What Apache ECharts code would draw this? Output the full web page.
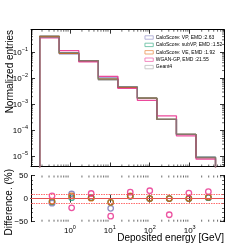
<!DOCTYPE html>
<html><head><meta charset="utf-8">
<script src="https://cdn.jsdelivr.net/npm/echarts@6/dist/echarts.min.js"></script>
<style>html,body{margin:0;padding:0;background:#fff}#c{width:249px;height:249px}</style>
</head><body><div id="c"></div>
<script>
// ---- data ----
const binEdges   = [0.175, 0.54, 1.67, 5.15, 15.9, 49, 151, 466, 1440, 4440];
const binCenters = [0.357, 1.105, 3.41, 10.5, 32.5, 100, 308, 953, 2940];
const geant4     = [0.38, 0.097, 0.048, 0.0087, 0.0048, 0.00174, 0.00027, 7.2e-5, 9.5e-6];
const caloVP     = [0.418, 0.0873, 0.047, 0.0105, 0.00456, 0.00174, 0.00027, 7.2e-5, 9.3e-6];
const caloSubVP  = [0.407, 0.095, 0.047, 0.0094, 0.00456, 0.00174, 0.00027, 7.2e-5, 9.3e-6];
const caloVE     = [0.403, 0.091, 0.0475, 0.0094, 0.00451, 0.00174, 0.00027, 7.2e-5, 9.2e-6];
const wganGP     = [0.357, 0.116, 0.0427, 0.012, 0.00413, 0.00144, 0.000365, 6.3e-5, 8.1e-6];
const diffVP     = [-10, 10, 2, -21, 5, 0, 0, 0, 2];
const diffSubVP  = [-7, 2, 2, -8, 5, 0, 0, 0, 2];
const diffVE     = [-6, 6, 1, -8, 6, 0, 0, 0, 3];
const diffWGAN   = [6, -20, 11, -38, 14, 17, -35, 12, 15];
const diffTicks  = [-50, 0, 50];
const seriesNames = ["CaloScore: VP, EMD :2.63", "CaloScore: subVP, EMD :1.52", "CaloScore: VE, EMD :1.92", "WGAN-GP, EMD :21.55", "Geant4"];
const refLines = [0, 10, -10];
const xLabel = "Deposited energy [GeV]";
const yLabelTop = "Normalized entries";
const yLabelBottom = "Difference. (%)";

// ---- style ----
const colors = ['#7570b3', '#1b9e77', '#d95f02', '#e7298a', '#7a7a7a'];
const legendColors = ['#aeabd6', '#6cc3a6', '#eda06a', '#f07ab8', '#c4c4c4'];
const FONT = 'Liberation Sans';
const FLOOR = 1e-9;

function stepData(vals) {
  const pts = [[binEdges[0], FLOOR]];
  vals.forEach((v, i) => { pts.push([binEdges[i], v]); pts.push([binEdges[i + 1], v]); });
  pts.push([binEdges[binEdges.length - 1], FLOOR]);
  return pts;
}
function powLabel(v) {
  const e = Math.round(Math.log10(v));
  return '{b|10}{s|' + String(e).replace('-', '\u2212') + '}';
}
const richLab = { b: { fontSize: 8, fontFamily: FONT, color: '#000' }, s: { fontSize: 5.5, fontFamily: FONT, color: '#000', padding: [0, 0, 6, 0] } };

const xMinor = [], yMinorTop = [];
for (let k = -1; k <= 3; k++) for (let m = 2; m <= 9; m++) xMinor.push(m * Math.pow(10, k));
for (let k = -6; k <= -1; k++) for (let m = 2; m <= 9; m++) yMinorTop.push(m * Math.pow(10, k));

function tickSeries(xi, yi, xs, ys, xRef, yRef, yLabs) {
  return {
    type: 'custom', xAxisIndex: xi, yAxisIndex: yi, data: [[xRef, yRef]], silent: true, z: 10, clip: false,
    renderItem(params, api) {
      const cs = params.coordSys, ch = [], L = 2;
      const st = { stroke: '#000', lineWidth: 0.6 };
      xs.forEach(v => {
        const p = api.coord([v, yRef])[0];
        if (p < cs.x + 0.5 || p > cs.x + cs.width - 0.5) return;
        ch.push({ type: 'line', shape: { x1: p, y1: cs.y + cs.height, x2: p, y2: cs.y + cs.height - L }, style: st });
        ch.push({ type: 'line', shape: { x1: p, y1: cs.y, x2: p, y2: cs.y + L }, style: st });
      });
      ys.forEach(v => {
        const p = api.coord([xRef, v])[1];
        if (p < cs.y + 0.5 || p > cs.y + cs.height - 0.5) return;
        ch.push({ type: 'line', shape: { x1: cs.x, y1: p, x2: cs.x + L, y2: p }, style: st });
        ch.push({ type: 'line', shape: { x1: cs.x + cs.width, y1: p, x2: cs.x + cs.width - L, y2: p }, style: st });
      });
      (yLabs || []).forEach(v => {
        const p = api.coord([xRef, v])[1];
        ch.push({ type: 'text', x: cs.x - 3, y: p, style: { text: String(v).replace('-', '\u2212'), align: 'right', verticalAlign: 'middle',
          fontSize: 8, fontFamily: FONT, fill: '#000' } });
      });
      return { type: 'group', children: ch };
    }
  };
}

const XMIN = 0.106, XMAX = 7244;
const axLine = { show: true, lineStyle: { color: '#000', width: 1 } };
const majTick = { show: true, inside: true, length: 4, lineStyle: { color: '#000', width: 0.8 } };

const xAxes = [
  { gridIndex: 0, type: 'log', min: XMIN, max: XMAX, position: 'bottom', axisLine: axLine, axisTick: majTick, axisLabel: { show: false }, splitLine: { show: false } },
  { gridIndex: 0, type: 'log', min: XMIN, max: XMAX, position: 'top', axisLine: axLine, axisTick: majTick, axisLabel: { show: false }, splitLine: { show: false } },
  { gridIndex: 1, type: 'log', min: XMIN, max: XMAX, position: 'bottom', axisLine: axLine, axisTick: majTick,
    axisLabel: { show: true, formatter: powLabel, rich: richLab, margin: 3, showMinLabel: false, showMaxLabel: false }, splitLine: { show: false } },
  { gridIndex: 1, type: 'log', min: XMIN, max: XMAX, position: 'top', axisLine: axLine, axisTick: majTick, axisLabel: { show: false }, splitLine: { show: false } }
];
const yAxes = [
  { gridIndex: 0, type: 'log', min: 4.2e-6, max: 0.735, position: 'left', splitNumber: 6, axisLine: axLine, axisTick: majTick,
    axisLabel: { formatter: powLabel, rich: richLab, margin: 3, showMinLabel: false, showMaxLabel: false }, splitLine: { show: false } },
  { gridIndex: 0, type: 'log', min: 4.2e-6, max: 0.735, position: 'right', splitNumber: 6, axisLine: axLine, axisTick: majTick, axisLabel: { show: false }, splitLine: { show: false } },
  { gridIndex: 1, type: 'value', min: -50, max: 50, interval: 50, position: 'left', axisLine: axLine, axisTick: majTick,
    minorTick: { show: true, splitNumber: 5, length: 2, lineStyle: { color: '#000', width: 0.6 } },
    axisLabel: { show: false }, splitLine: { show: false } },
  { gridIndex: 1, type: 'value', min: -50, max: 50, interval: 50, position: 'right', axisLine: axLine, axisTick: majTick,
    minorTick: { show: true, splitNumber: 5, length: 2, lineStyle: { color: '#000', width: 0.6 } },
    axisLabel: { show: false }, splitLine: { show: false } }
];

const histVals = [caloVP, caloSubVP, caloVE, wganGP, geant4];
const diffVals = [diffVP, diffSubVP, diffVE, diffWGAN];
const series = [];
histVals.forEach((vals, i) => {
  series.push({ name: seriesNames[i], type: 'line', xAxisIndex: 0, yAxisIndex: 0, data: stepData(vals), showSymbol: false, symbol: 'none',
    clip: true, animation: false, color: colors[i], lineStyle: { color: colors[i], width: 1.3, opacity: 0.85 } });
});
diffVals.forEach((vals, i) => {
  series.push({ type: 'scatter', xAxisIndex: 2, yAxisIndex: 2, data: binCenters.map((c, j) => [c, vals[j]]), symbol: 'circle', symbolSize: 5.5,
    animation: false, z: 4, itemStyle: { color: 'rgba(0,0,0,0)', borderColor: colors[i], borderWidth: 1.3 } });
});
series.push({ type: 'line', xAxisIndex: 2, yAxisIndex: 2, data: [], animation: false,
  markLine: { silent: true, symbol: 'none', label: { show: false }, animation: false,
    data: refLines.map(v => ({ yAxis: v, lineStyle: { color: '#ff5a5a', width: 0.9, type: v === 0 ? 'solid' : [1.5, 1] } })) } });
series.push(tickSeries(0, 0, xMinor, yMinorTop, 1, 1e-3));
series.push(tickSeries(2, 2, xMinor, [], 1, 0, diffTicks));

const option = {
  backgroundColor: '#fff',
  animation: false,
  grid: [
    { left: 31, right: 25, top: 29.7, height: 136.8 },
    { left: 31, right: 25, top: 175.5, height: 46.2 }
  ],
  xAxis: xAxes, yAxis: yAxes, series,
  legend: {
    left: 139.5, top: 29.5, orient: 'vertical', icon: 'rect', itemWidth: 8.3, itemHeight: 3.4, itemGap: 1.4,
    textStyle: { fontSize: 5, fontFamily: FONT, color: '#000', lineHeight: 6, padding: [0, 0, 0, -2.5] },
    data: seriesNames.map((n, i) => ({ name: n, itemStyle: { color: '#fff', borderColor: legendColors[i], borderWidth: 0.9 } }))
  },
  graphic: [
    { type: 'text', x: 5, y: 30, rotation: Math.PI / 2, style: { text: yLabelTop, align: 'right', verticalAlign: 'top', fontSize: 10, fontFamily: FONT, fill: '#000' } },
    { type: 'text', x: 4, y: 169, rotation: Math.PI / 2, style: { text: yLabelBottom, align: 'right', verticalAlign: 'top', fontSize: 10, fontFamily: FONT, fill: '#000' } },
    { type: 'text', x: 224, y: 238, style: { text: xLabel, align: 'right', verticalAlign: 'middle', fontSize: 10, fontFamily: FONT, fill: '#000' } }
  ]
};
const chart = echarts.init(document.getElementById('c'), null, { renderer: 'canvas' });
chart.setOption(option);
</script></body></html>
